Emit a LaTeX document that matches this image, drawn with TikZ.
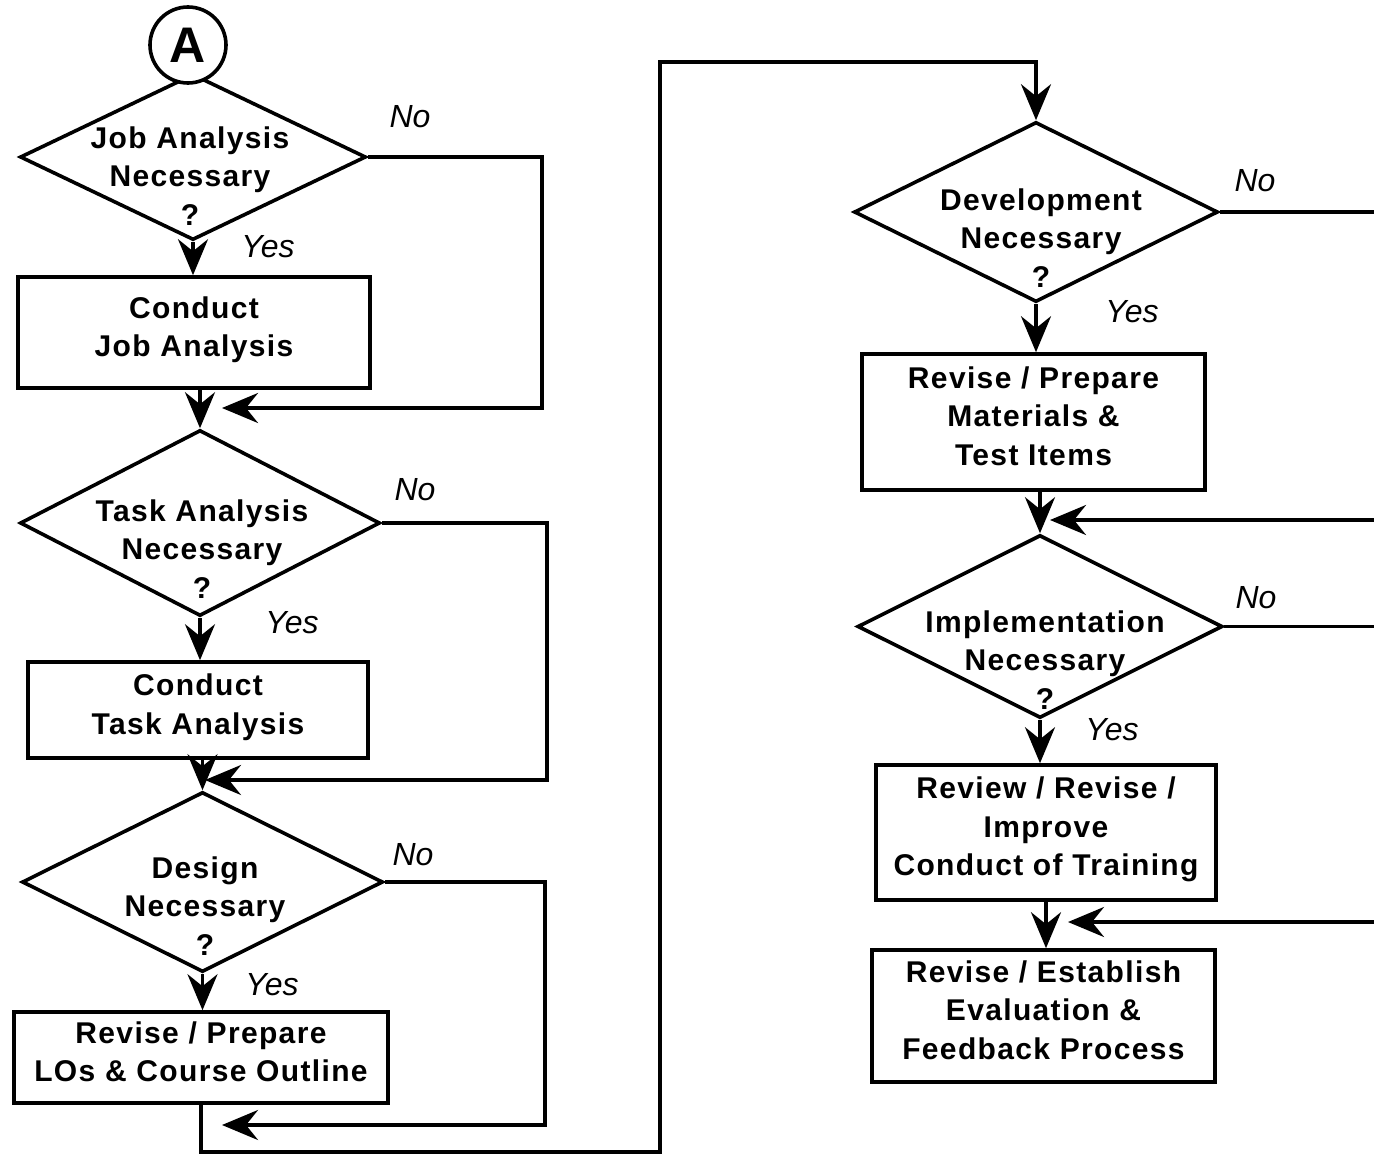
\documentclass[tikz,border=0pt]{standalone}
\usepackage{fontspec}
\setmainfont{Liberation Sans}
\newfontfamily\boxfont[LetterSpace=4.5]{Liberation Sans}
\usetikzlibrary{shapes.geometric,arrows.meta}
\begin{document}
\begin{tikzpicture}[x=1pt,y=-1pt,
  line width=3.6pt,
  flow/.style={-{Stealth[length=36pt,width=30pt,inset=12pt]}},
  decision/.style={draw,shape=diamond,inner sep=0pt},
  stepbox/.style={draw,rectangle,inner sep=0pt,align=center,text depth=12pt,
    font=\boxfont\bfseries\fontsize{30}{38.5}\selectfont},
  txt/.style={align=center,inner sep=0pt,
    font=\boxfont\bfseries\fontsize{30}{38.5}\selectfont},
  ans/.style={inner sep=0pt,font=\itshape\fontsize{32}{38}\selectfont}]
\useasboundingbox (0,0) rectangle (1374,1154);

% ---------- left column ----------
\node[decision,minimum width=346pt,minimum height=166pt] (d1) at (193,157) {};
\node[circle,draw,fill=white,minimum size=76pt,inner sep=0pt,
  font=\bfseries\fontsize{50}{50}\selectfont] (A) at (188,45) {A};
\node[txt] (t1) at (190,176) {Job Analysis\\Necessary\\?};
\node[stepbox,minimum width=352pt,minimum height=111pt] (b1) at (194,332.5) {Conduct\\Job Analysis};

\node[decision,minimum width=360pt,minimum height=186pt] (d2) at (200,523) {};
\node[txt] (t2) at (202,549) {Task Analysis\\Necessary\\?};
\node[stepbox,minimum width=340pt,minimum height=96pt] (b2) at (198,710) {Conduct\\Task Analysis};

\node[decision,minimum width=361pt,minimum height=180pt] (d3) at (202.5,882) {};
\node[txt] (t3) at (205,906) {Design\\Necessary\\?};
\node[stepbox,minimum width=374pt,minimum height=91pt] (b3) at (201,1057.5) {Revise / Prepare\\LOs \& Course Outline};

% ---------- right column ----------
\node[decision,minimum width=364pt,minimum height=180pt] (d4) at (1036,212) {};
\node[txt] (t4) at (1041,238) {Development\\Necessary\\?};
\node[stepbox,minimum width=343pt,minimum height=136pt] (b4) at (1033.5,422) {Revise / Prepare\\Materials \&\\Test Items};

\node[decision,minimum width=365pt,minimum height=183pt] (d5) at (1040,626.5) {};
\node[txt] (t5) at (1045,660) {Implementation\\Necessary\\?};
\node[stepbox,minimum width=340pt,minimum height=135pt] (b5) at (1046,832.5) {Review / Revise /\\Improve\\Conduct of Training};

\node[stepbox,minimum width=343pt,minimum height=132pt] (b6) at (1043.5,1016) {Revise / Establish\\Evaluation \&\\Feedback Process};

% ---------- answers ----------
\node[ans] (n1) at (410,117) {No};
\node[ans] (y1) at (268,247) {Yes};
\node[ans] (n2) at (415,490) {No};
\node[ans] (y2) at (292,623) {Yes};
\node[ans] (n3) at (413,855) {No};
\node[ans] (y3) at (272,985) {Yes};
\node[ans] (n4) at (1255,181) {No};
\node[ans] (y4) at (1132,312) {Yes};
\node[ans] (n5) at (1256,598) {No};
\node[ans] (y5) at (1112,730) {Yes};

% ---------- joins and edge points ----------
\coordinate (j1) at (222,408);
\coordinate (j2) at (205,780);
\coordinate (j3) at (222,1125);
\coordinate (loop) at (660,62);
\coordinate (r4) at (1380,212);
\coordinate (r5) at (1380,626);
\coordinate (in5) at (1380,520);
\coordinate (j5) at (1050,520);
\coordinate (in6) at (1380,922);
\coordinate (j6) at (1068,922);

% ---------- yes paths ----------
\draw[flow] (d1.south) -- (d1.south |- b1.north);
\draw[flow] (d2.north |- b1.south) -- (d2.north);
\draw[flow] (d2.south) -- (d2.south |- b2.north);
\draw[flow] (d3.north |- b2.south) -- (d3.north);
\draw[flow] (d3.south) -- (d3.south |- b3.north);
\draw[flow] (b3.south) -- ++(0,47) -| (loop) -| (d4.north);
\draw[flow] (d4.south) -- (d4.south |- b4.north);
\draw[flow] (d5.north |- b4.south) -- (d5.north);
\draw[flow] (d5.south) -- (d5.south |- b5.north);
\draw[flow] (b5.south) -- (b5.south |- b6.north);

% ---------- no paths ----------
\draw[flow] (d1.east) -- ++(174,0) |- (j1);
\draw[flow] (d2.east) -- ++(165,0) |- (j2);
\draw[flow] (d3.east) -- ++(160,0) |- (j3);
\draw (d4.east) -- (d4.east -| r4);
\draw (d5.east) -- (d5.east -| r5);
\draw[flow] (in5) -- (j5);
\draw[flow] (in6) -- (j6);
\end{tikzpicture}
\end{document}
